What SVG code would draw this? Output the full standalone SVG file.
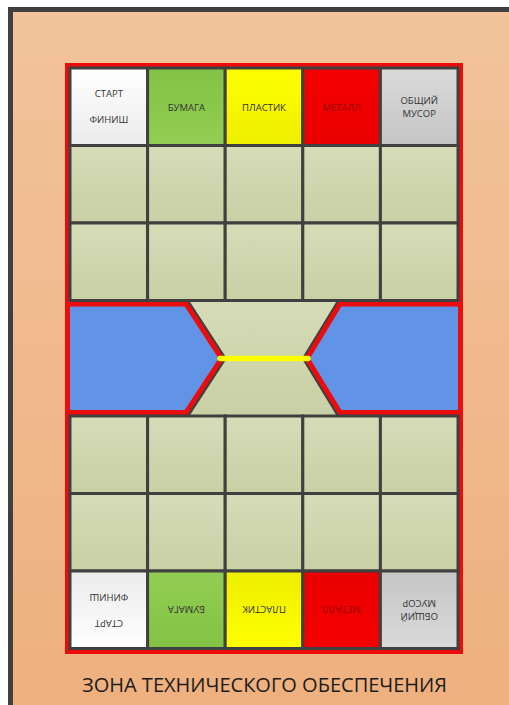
<svg xmlns="http://www.w3.org/2000/svg" width="509" height="705" viewBox="0 0 509 705">
<defs>
<linearGradient id="bg" x1="0" y1="0" x2="0" y2="1"><stop offset="0" stop-color="#F2C39C"/><stop offset="1" stop-color="#EEAF7C"/></linearGradient>
<linearGradient id="gKh" x1="0" y1="0" x2="0" y2="1"><stop offset="0" stop-color="#D5DCB7"/><stop offset="1" stop-color="#C9D0A5"/></linearGradient>
<linearGradient id="gW" x1="0" y1="0" x2="0" y2="1"><stop offset="0" stop-color="#FFFFFF"/><stop offset="1" stop-color="#EBEBEB"/></linearGradient>
<linearGradient id="gG" x1="0" y1="0" x2="0" y2="1"><stop offset="0" stop-color="#82C244"/><stop offset="1" stop-color="#92CE53"/></linearGradient>
<linearGradient id="gY" x1="0" y1="0" x2="0" y2="1"><stop offset="0" stop-color="#FFFF00"/><stop offset="1" stop-color="#EEEE00"/></linearGradient>
<linearGradient id="gR" x1="0" y1="0" x2="0" y2="1"><stop offset="0" stop-color="#F40000"/><stop offset="1" stop-color="#EA0000"/></linearGradient>
<linearGradient id="gS" x1="0" y1="0" x2="0" y2="1"><stop offset="0" stop-color="#DADADA"/><stop offset="1" stop-color="#C5C5C5"/></linearGradient>
</defs>
<style>
.cell{stroke:#404040;stroke-width:3}
.kh{fill:url(#gKh)}
.t{font-family:"Open Sans","Liberation Sans",Arial,sans-serif;font-size:9.5px;fill:#333333;text-anchor:middle}
.tm{fill:#9A0000}
.blue{fill:#6194E6;stroke:#EC0C0C;stroke-width:5;stroke-linejoin:miter}
.dk{fill:none;stroke:#404040;stroke-width:9;stroke-linejoin:miter}
</style>
<rect x="0" y="0" width="509" height="705" fill="#FFFFFF"/>
<rect id="frame" x="10.5" y="9.5" width="540" height="740" fill="url(#bg)" stroke="#404040" stroke-width="5"/>
<g id="board">
<rect x="65" y="63" width="398" height="591" fill="#EC0C0C"/>
<rect x="70" y="300.5" width="388" height="115.5" fill="url(#gKh)"/>
<g id="middle">
<polyline class="dk" points="183.4,300 221.5,358.5 183.4,417"/>
<polyline class="dk" points="342.6,300 307,358.5 342.6,417"/>
<polygon class="blue" points="67.5,304 186,304 221.5,358.5 186,412.5 67.5,412.5"/>
<polygon class="blue" points="460.5,304 340,304 307,358.5 340,412.5 460.5,412.5"/>
<line x1="220" y1="358.5" x2="308" y2="358.5" stroke="#FFFF00" stroke-width="5.5" stroke-linecap="round"/>
</g>
<g id="grid">
<rect class="cell kh" x="70" y="145.5" width="77.6" height="77.5"/>
<rect class="cell kh" x="147.6" y="145.5" width="77.6" height="77.5"/>
<rect class="cell kh" x="225.2" y="145.5" width="77.6" height="77.5"/>
<rect class="cell kh" x="302.8" y="145.5" width="77.6" height="77.5"/>
<rect class="cell kh" x="380.4" y="145.5" width="77.6" height="77.5"/>
<rect class="cell kh" x="70" y="223" width="77.6" height="77.5"/>
<rect class="cell kh" x="147.6" y="223" width="77.6" height="77.5"/>
<rect class="cell kh" x="225.2" y="223" width="77.6" height="77.5"/>
<rect class="cell kh" x="302.8" y="223" width="77.6" height="77.5"/>
<rect class="cell kh" x="380.4" y="223" width="77.6" height="77.5"/>
<rect class="cell kh" x="70" y="416" width="77.6" height="77.5"/>
<rect class="cell kh" x="147.6" y="416" width="77.6" height="77.5"/>
<rect class="cell kh" x="225.2" y="416" width="77.6" height="77.5"/>
<rect class="cell kh" x="302.8" y="416" width="77.6" height="77.5"/>
<rect class="cell kh" x="380.4" y="416" width="77.6" height="77.5"/>
<rect class="cell kh" x="70" y="493.5" width="77.6" height="77.5"/>
<rect class="cell kh" x="147.6" y="493.5" width="77.6" height="77.5"/>
<rect class="cell kh" x="225.2" y="493.5" width="77.6" height="77.5"/>
<rect class="cell kh" x="302.8" y="493.5" width="77.6" height="77.5"/>
<rect class="cell kh" x="380.4" y="493.5" width="77.6" height="77.5"/>
</g>
<g id="start-top">
<rect class="cell" x="70" y="68" width="77.6" height="77.5" fill="url(#gW)"/>
<text class="t" x="108.8" y="96.5">СТАРТ</text>
<text class="t" x="108.8" y="122.5">ФИНИШ</text>
</g>
<g id="paper-top">
<rect class="cell" x="147.6" y="68" width="77.6" height="77.5" fill="url(#gG)"/>
<text class="t" x="186.4" y="110.5">БУМАГА</text>
</g>
<g id="plastic-top">
<rect class="cell" x="225.2" y="68" width="77.6" height="77.5" fill="url(#gY)"/>
<text class="t" x="264" y="110.5">ПЛАСТИК</text>
</g>
<g id="metal-top">
<rect class="cell" x="302.8" y="68" width="77.6" height="77.5" fill="url(#gR)"/>
<text class="t tm" x="341.6" y="110.5">МЕТАЛЛ</text>
</g>
<g id="general-top">
<rect class="cell" x="380.4" y="68" width="77.6" height="77.5" fill="url(#gS)"/>
<text class="t" x="419.2" y="103.5">ОБЩИЙ</text>
<text class="t" x="419.2" y="117">МУСОР</text>
</g>
<g id="start-bottom" transform="rotate(180 108.8 609.75)">
<rect class="cell" x="70" y="571" width="77.6" height="77.5" fill="url(#gW)"/>
<text class="t" x="108.8" y="599.5">СТАРТ</text>
<text class="t" x="108.8" y="625.5">ФИНИШ</text>
</g>
<g id="paper-bottom" transform="rotate(180 186.4 609.75)">
<rect class="cell" x="147.6" y="571" width="77.6" height="77.5" fill="url(#gG)"/>
<text class="t" x="186.4" y="613.5">БУМАГА</text>
</g>
<g id="plastic-bottom" transform="rotate(180 264 609.75)">
<rect class="cell" x="225.2" y="571" width="77.6" height="77.5" fill="url(#gY)"/>
<text class="t" x="264" y="613.5">ПЛАСТИК</text>
</g>
<g id="metal-bottom" transform="rotate(180 341.6 609.75)">
<rect class="cell" x="302.8" y="571" width="77.6" height="77.5" fill="url(#gR)"/>
<text class="t tm" x="341.6" y="613.5">МЕТАЛЛ</text>
</g>
<g id="general-bottom" transform="rotate(180 419.2 609.75)">
<rect class="cell" x="380.4" y="571" width="77.6" height="77.5" fill="url(#gS)"/>
<text class="t" x="419.2" y="606.5">ОБЩИЙ</text>
<text class="t" x="419.2" y="620">МУСОР</text>
</g>
</g>
<text id="title" x="264.5" y="692" font-family="Open Sans, Liberation Sans, Arial, sans-serif" font-size="20" fill="#1c1c1c" text-anchor="middle" textLength="365" lengthAdjust="spacingAndGlyphs">ЗОНА ТЕХНИЧЕСКОГО ОБЕСПЕЧЕНИЯ</text>
</svg>
